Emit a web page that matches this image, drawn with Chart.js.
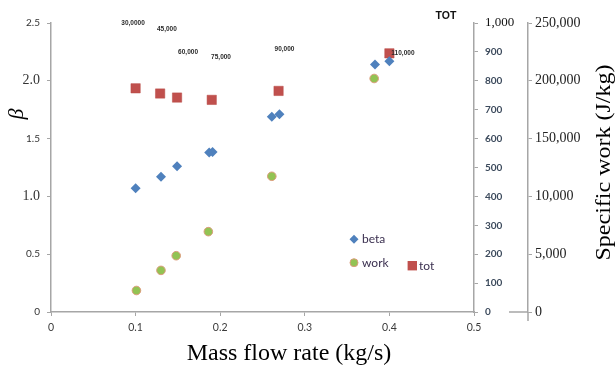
<!DOCTYPE html>
<html><head><meta charset="utf-8">
<script src="https://cdn.jsdelivr.net/npm/chart.js@4/dist/chart.umd.min.js"></script>
<style>html,body{margin:0;padding:0;background:#fff}#wrap{width:615px;height:366px;position:relative}</style>
</head><body><div id="wrap"><canvas id="c"></canvas></div>
<script>
// ---- data ----
const betaX = [0.100, 0.130, 0.149, 0.187, 0.191, 0.261, 0.270, 0.383, 0.400];
const betaY = [1.07, 1.17, 1.26, 1.38, 1.385, 1.69, 1.71, 2.14, 2.17];
const workX = [0.101, 0.130, 0.148, 0.186, 0.261, 0.382];
const workY = [18600, 36000, 48700, 69500, 117400, 202000];
const totX = [0.100, 0.129, 0.149, 0.190, 0.269, 0.400];
const totY = [774, 756, 742, 734, 765, 895];
const annoText = ["30,0000", "45,000", "60,000", "75,000", "90,000", "110,000"];
const annoX = [0.097, 0.137, 0.162, 0.201, 0.276, 0.416];
const annoY = [2.495, 2.443, 2.25, 2.20, 2.27, 2.235];
const xTickLabels = ["0", "0.1", "0.2", "0.3", "0.4", "0.5"];
const betaTickLabels = ["0", "0.5", "1.0", "1.5", "2.0", "2.5"];
const totTickLabels = ["0", "100", "200", "300", "400", "500", "600", "700", "800", "900", "1,000"];
const workTickLabels = ["0", "5,000", "10,000", "150,000", "200,000", "250,000"];
const seriesNames = ["beta", "work", "tot"];

const pts = (xs, ys) => xs.map((v, i) => ({x: v, y: ys[i]}));
const AX = '#a6a6a6';
const SANS = 'Lato';
const SERIF = '"Liberation Serif"';

const overlay = {
  id: 'overlay',
  afterDraw(chart) {
    const {ctx, chartArea: a, scales: {x, y}} = chart;
    ctx.save();
    // data labels
    ctx.font = 'bold 6.5px "Liberation Sans"';
    ctx.fillStyle = '#2b2b2b';
    ctx.textAlign = 'center';
    ctx.textBaseline = 'middle';
    annoText.forEach((t, i) => ctx.fillText(t, x.getPixelForValue(annoX[i]), y.getPixelForValue(annoY[i])));
    // TOT
    ctx.font = 'bold 10.5px "Liberation Sans"';
    ctx.fillStyle = '#111';
    ctx.fillText('TOT', a.right - 28, a.top - 7);
    // beta axis title
    ctx.save();
    ctx.translate(17, 114);
    ctx.rotate(-Math.PI / 2);
    ctx.font = 'italic 22px ' + SERIF;
    ctx.fillStyle = '#000';
    ctx.fillText('β', 0, 0);
    ctx.restore();
    // right title
    ctx.save();
    ctx.translate(610, 162.5);
    ctx.rotate(-Math.PI / 2);
    ctx.scale(1.2, 1);
    ctx.textBaseline = 'alphabetic';
    ctx.font = '20px ' + SERIF;
    ctx.fillStyle = '#000';
    ctx.fillText('Specific work (J/kg)', 0, 0);
    ctx.restore();
    // x title
    ctx.font = '24px ' + SERIF;
    ctx.fillStyle = '#000';
    ctx.textBaseline = 'alphabetic';
    ctx.fillText('Mass flow rate (kg/s)', 289, 360);
    // y2 stub lines
    ctx.strokeStyle = AX;
    ctx.lineWidth = 1.5;
    ctx.beginPath();
    ctx.moveTo(509, a.bottom); ctx.lineTo(528, a.bottom);
    ctx.moveTo(528, a.bottom); ctx.lineTo(528, a.bottom + 9);
    ctx.stroke();
    // legend
    ctx.textAlign = 'left';
    ctx.textBaseline = 'middle';
    ctx.font = '12px ' + SANS;
    ctx.fillStyle = '#4f81bd';
    ctx.beginPath();
    ctx.moveTo(354, 234.8); ctx.lineTo(358.5, 239.3); ctx.lineTo(354, 243.8); ctx.lineTo(349.5, 239.3); ctx.closePath();
    ctx.fill();
    ctx.fillStyle = '#92c353';
    ctx.strokeStyle = '#dc9c7c';
    ctx.lineWidth = 1;
    ctx.beginPath(); ctx.arc(354, 262.7, 4, 0, Math.PI * 2); ctx.fill(); ctx.stroke();
    ctx.fillStyle = '#c0504d';
    ctx.fillRect(407.6, 261, 9.4, 9.4);
    ctx.fillStyle = '#3b3050';
    ctx.fillText(seriesNames[0], 362, 239.5);
    ctx.fillText(seriesNames[1], 362, 263);
    ctx.fillText(seriesNames[2], 419, 266.5);
    ctx.restore();
  }
};

const gridOpt = {drawOnChartArea: false, color: AX, tickLength: 4, tickWidth: 1};
const borderOpt = {color: AX, width: 1.5};

new Chart(document.getElementById('c'), {
  type: 'scatter',
  data: {
    datasets: [
      {label: seriesNames[0], data: pts(betaX, betaY), yAxisID: 'y', pointStyle: 'rectRot', pointRadius: 5,
       backgroundColor: '#4f81bd', borderColor: '#4f81bd', borderWidth: 0},
      {label: seriesNames[1], data: pts(workX, workY), yAxisID: 'y2', pointStyle: 'circle', pointRadius: 4.3,
       backgroundColor: '#92c353', borderColor: '#dc9c7c', borderWidth: 1},
      {label: seriesNames[2], data: pts(totX, totY), yAxisID: 'y1', pointStyle: 'rect', pointRadius: 6.6,
       backgroundColor: '#c0504d', borderColor: '#b84a47', borderWidth: 0.5}
    ]
  },
  options: {
    responsive: true, maintainAspectRatio: false, animation: false,
    layout: {padding: {top: 23, left: 0, right: 0, bottom: 0}},
    plugins: {legend: {display: false}, tooltip: {enabled: false}},
    scales: {
      x: {
        type: 'linear', position: 'bottom', min: 0, max: 0.5,
        grid: gridOpt, border: borderOpt,
        ticks: {stepSize: 0.1, padding: 5, color: '#3a3a3a', font: {family: SANS, size: 10.5},
                maxRotation: 0, callback: (v, i) => xTickLabels[i]},
        afterFit: s => { s.height = 54; }
      },
      y: {
        type: 'linear', position: 'left', min: 0, max: 2.5,
        grid: gridOpt, border: borderOpt,
        ticks: {stepSize: 0.5, padding: 7, color: '#333',
                font: c => (c.tick && (c.tick.value === 1 || c.tick.value === 2)) ? {family: SERIF, size: 14} : {family: SANS, size: 10},
                callback: (v, i) => betaTickLabels[i]},
        afterFit: s => { s.width = 51; }
      },
      y1: {
        type: 'linear', position: 'right', weight: 0, min: 0, max: 1000,
        grid: gridOpt, border: borderOpt,
        ticks: {stepSize: 100, padding: 7,
                color: c => (c.tick && c.tick.value === 1000) ? '#111' : '#3c4a5c',
                font: c => (c.tick && c.tick.value === 1000) ? {family: SERIF, size: 13} : {family: SANS, size: 10, weight: 'bold'},
                callback: (v, i) => totTickLabels[i]},
        afterFit: s => { s.width = 54; }
      },
      y2: {
        type: 'linear', position: 'right', weight: 1, min: 0, max: 250000,
        grid: gridOpt, border: borderOpt,
        ticks: {stepSize: 50000, padding: 3, color: '#222', font: {family: SERIF, size: 14},
                callback: (v, i) => workTickLabels[i]},
        afterFit: s => { s.width = 87; }
      }
    }
  },
  plugins: [overlay]
});
</script>
</body></html>
